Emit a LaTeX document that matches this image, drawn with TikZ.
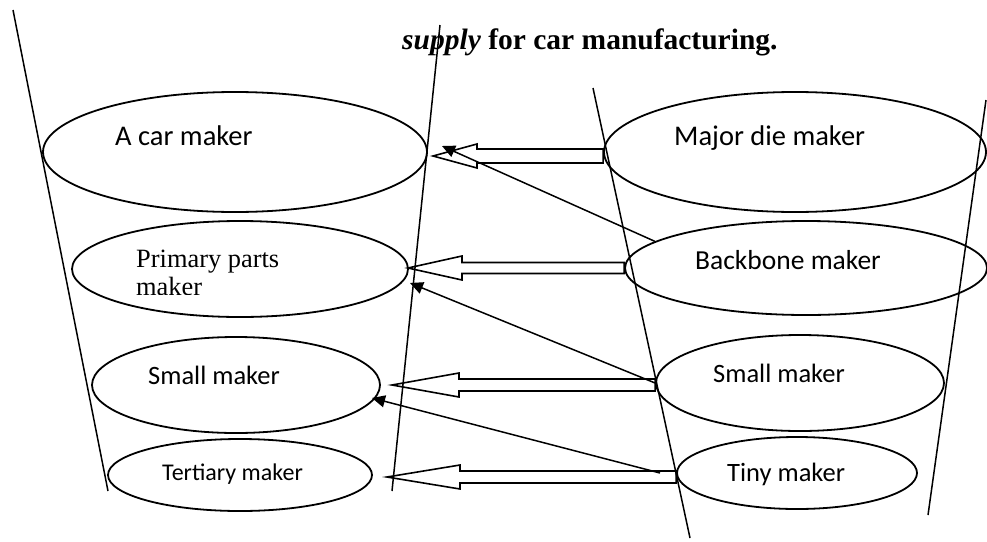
\documentclass[tikz,border=0pt]{standalone}
\usepackage{fontspec}
\setmainfont{Liberation Serif}
\newfontfamily\carlito{Carlito}
\usetikzlibrary{shapes.geometric,arrows.meta,calc}

\tikzset{
  maker/.style={draw, ellipse, line width=1.8pt, inner sep=0pt},
  cupline/.style={line width=1.5pt},
  hollowarrow/.style={draw, line width=1.6pt, line join=miter},
  feed/.style={line width=1.5pt, -{Triangle[length=13pt,width=12pt]}},
  lbl/.style={anchor=base west, inner sep=0pt, font=\carlito},
}

% hollow block arrow pointing left: #1 tail point, #2 tip,
% #3 half shaft width, #4 half head width, #5 head length
\newcommand\blockarrow[5]{%
  \draw[hollowarrow] let \p1=(#1), \p2=(#2) in
    (\p2) -- (\x2+#5pt,\y2+#4pt) -- (\x2+#5pt,\y2+#3pt) -- (\x1,\y2+#3pt)
    -- (\x1,\y2-#3pt) -- (\x2+#5pt,\y2-#3pt) -- (\x2+#5pt,\y2-#4pt) -- cycle;}

\begin{document}
\begin{tikzpicture}[x=1pt,y=1pt]
\useasboundingbox (0,0) rectangle (987,-541);

% caption line
\node[anchor=base west, inner sep=0pt, font=\fontsize{29.5}{34}\selectfont\bfseries] (caption)
  at (402,-49) {\textit{supply} for car manufacturing.};

% the two tiers (cups)
\draw[cupline] (13,-10) -- (108,-491);
\draw[cupline] (440,-25) -- (392,-491);
\draw[cupline] (593,-88) -- (690,-538);
\draw[cupline] (986,-100) -- (928,-515);

% car maker side
\node[maker, minimum width=384pt, minimum height=120pt] (car) at (235,-152) {};
\node[maker, minimum width=336pt, minimum height=96pt] (primary) at (240,-269) {};
\node[maker, minimum width=288pt, minimum height=96pt] (smallL) at (236,-385) {};
\node[maker, minimum width=264pt, minimum height=72pt] (tertiary) at (240,-475) {};

% die maker side
\node[maker, minimum width=382pt, minimum height=120pt] (major) at (795,-152) {};
\node[maker, minimum width=362pt, minimum height=94pt] (backbone) at (806,-268) {};
\node[maker, minimum width=288pt, minimum height=96pt] (smallR) at (800,-383) {};
\node[maker, minimum width=240pt, minimum height=72pt] (tiny) at (797,-473) {};

% labels
\node[lbl, font=\carlito\fontsize{28.5}{32}\selectfont] (tcar) at (115,-145) {A car maker};
\begin{scope}
  % the second line of this label is cut off at the bottom of its box
  \clip (0,0) rectangle (987,-294);
  \node[anchor=base west, inner sep=0pt, align=left,
        font=\fontsize{26.4}{28}\selectfont] (tprimary) at (136,-295.5)
        {Primary parts\\maker};
\end{scope}
\node[lbl, font=\carlito\fontsize{26.5}{30}\selectfont] (tsmallL) at (148,-384) {Small maker};
\node[lbl, font=\carlito\fontsize{24}{28}\selectfont] (ttertiary) at (162,-480) {Tertiary maker};
\node[lbl, font=\carlito\fontsize{28.5}{32}\selectfont] (tmajor) at (674,-145) {Major die maker};
\node[lbl, font=\carlito\fontsize{27.5}{32}\selectfont] (tbackbone) at (695,-269) {Backbone maker};
\node[lbl, font=\carlito\fontsize{26.5}{30}\selectfont] (tsmallR) at (713,-382) {Small maker};
\node[lbl, font=\carlito\fontsize{26.5}{30}\selectfont] (ttiny) at (727,-481) {Tiny maker};

% tips of the supply arrows
\coordinate (tip1) at (433,-156);
\coordinate (tip2) at (408,-268);
\coordinate (tip3) at (392,-385);
\coordinate (tip4) at (387,-477);

% direct supply (hollow arrows)
\blockarrow{major.west}{tip1}{7}{12}{44}
\blockarrow{backbone.west}{tip2}{5.5}{12}{54}
\blockarrow{smallR.west}{tip3}{6}{12}{67}
\blockarrow{tiny.west}{tip4}{6}{12}{73}

% supply skipping a tier
\coordinate (up1) at (442,-146);
\coordinate (up2) at (410,-283);
\coordinate (up3) at (372,-398);
\coordinate (from3) at (660,-473);
\draw[feed] (backbone.170) -- (up1);
\draw[feed] (smallR.west) -- (up2);
\draw[feed] (from3) -- (up3);
\end{tikzpicture}
\end{document}
